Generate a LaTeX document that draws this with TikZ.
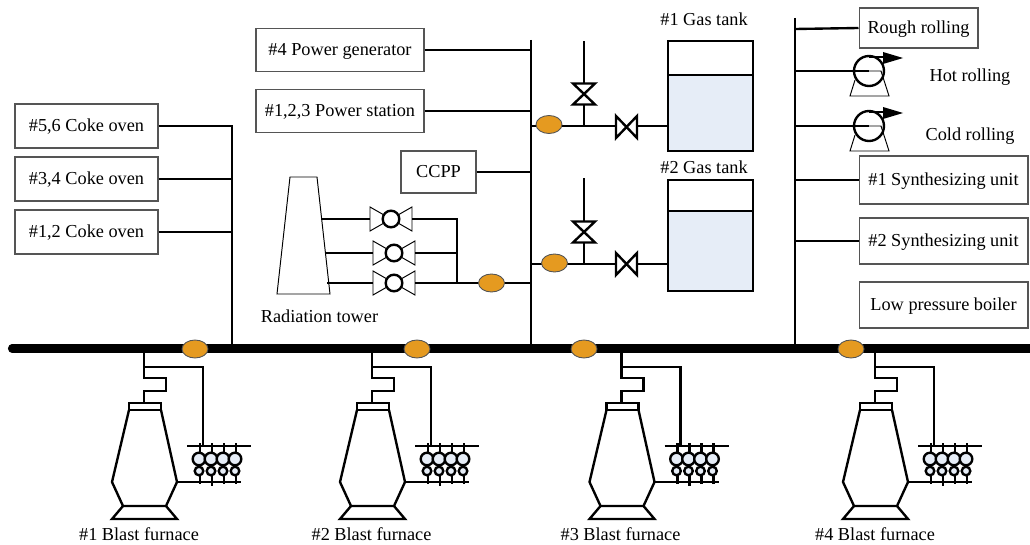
\documentclass[tikz,border=0pt]{standalone}
\usepackage{fontspec}
\setmainfont{Liberation Serif}
\usetikzlibrary{positioning,shapes.geometric,calc}
\definecolor{cgas}{HTML}{E6EDF7}
\definecolor{corange}{HTML}{E59A20}
\definecolor{cedge}{HTML}{555555}
\tikzset{
  pipe/.style  ={line width=1.35pt,black},
  thin/.style  ={line width=0.55pt,black},
  bus/.style   ={line width=4.6pt,black,line cap=round},
  unit/.style  ={draw=cedge,line width=0.6pt,fill=white,font=\fontsize{10.4}{12}\selectfont,
                 inner sep=0pt,text height=8.7pt,text depth=2pt},
  tag/.style   ={font=\fontsize{10.4}{12}\selectfont,inner sep=0pt},
  meter/.style ={ellipse,draw=cedge,line width=0.5pt,fill=corange,
                 minimum width=0.52cm,minimum height=0.36cm,inner sep=0pt},
}
\newcommand{\blastfurnace}[2]{%
\begin{scope}[shift={(#1,0)}]
 \coordinate (#2) at (144,348);
 \draw[pipe] (#2) -- (144,378) -- (166,378) -- (166,391) -- (144,391) -- (144,403);
 \draw[pipe] (144,367) -- (203,367) -- (203,446);
 \draw[pipe] (129,403) rectangle (161,410);
 \draw[pipe] (129,410) -- (112,482) -- (123,506) -- (166,506) -- (177,482) -- (161,410);
 \draw[pipe] (123,506) -- (112,519) -- (177,519) -- (166,506);
 \draw[pipe] (187,446) -- (251,446);
 \draw[pipe] (177,482) -- (241,482);
 \foreach \x/\b in {200/484,212/486,224/484,236/484}
   {\draw[pipe] (\x,443) -- (\x,\b);}
 \foreach \x in {199,211,223,235}
   {\draw[pipe,fill=cgas] (\x,459) circle (6.3);
    \draw[pipe,fill=cgas] (\x,471) circle (4.3);}
\end{scope}}
\newcommand{\towervalve}[2]{%
\begin{scope}[shift={#1}]
 \draw[thin,fill=white] (-21,-12) -- (21,12) -- (21,-12) -- (-21,12) -- cycle;
 \draw[pipe,fill=white] (0,0) circle (8.3);
 \coordinate (#2w) at (-21,0);
 \coordinate (#2e) at (21,0);
\end{scope}}
\newcommand{\gasvalve}[2]{%
\begin{scope}[shift={#1},rotate=#2]
 \draw[pipe,fill=white] (-10.5,-11) -- (10.5,11) -- (10.5,-11) -- (-10.5,11) -- cycle;
\end{scope}}
\newcommand{\rollpump}[2]{%
\begin{scope}[shift={#1}]
 \draw[thin] (-14,9) -- (-19,25) -- (20,25) -- (12,0) -- (0,0);
 \draw[pipe] (0,-14) -- (14,-14);
 \fill (14,-19) -- (34,-13) -- (14,-7) -- cycle;
 \draw[pipe] (0,0) circle (15);
 \coordinate (#2) at (0,0);
\end{scope}}
\begin{document}
\begin{tikzpicture}[x=0.02cm,y=-0.02cm]
 \useasboundingbox (0,0) rectangle (1030,544);
 % main line
 \coordinate (busw) at (12,348.5);
 \coordinate (buse) at (1030,348.5);
 \draw[bus] (busw) -- (buse);
 \blastfurnace{0}{bf1}
 \blastfurnace{228}{bf2}
 \blastfurnace{477.5}{bf3}
 \blastfurnace{731}{bf4}
 \node[tag] (bf1label) at (139,534) {\#1 Blast furnace};
 \node[tag] (bf2label) at (371.5,534) {\#2 Blast furnace};
 \node[tag] (bf3label) at (620.5,534) {\#3 Blast furnace};
 \node[tag] (bf4label) at (875,534) {\#4 Blast furnace};
 % coke ovens
 \node[unit,minimum width=2.86cm,minimum height=0.88cm] (oven3) at (86.5,126) {\#5,6 Coke oven};
 \node[unit,minimum width=2.86cm,minimum height=0.88cm] (oven2) at (86.5,179) {\#3,4 Coke oven};
 \node[unit,minimum width=2.86cm,minimum height=0.88cm] (oven1) at (86.5,232) {\#1,2 Coke oven};
 \coordinate (ovenbus) at (232,348);
 \draw[pipe] (oven3.east) -- (232,126) -- (ovenbus);
 \draw[pipe] (oven2.east) -- (232,179);
 \draw[pipe] (oven1.east) -- (232,232);
 % power
 \node[unit,minimum width=3.36cm,minimum height=0.86cm] (gen) at (340,50) {\#4 Power generator};
 \node[unit,minimum width=3.36cm,minimum height=0.86cm] (station) at (340,111) {\#1,2,3 Power station};
 \node[unit,minimum width=1.5cm,minimum height=0.84cm] (ccpp) at (438.5,172) {CCPP};
 \coordinate (midtop) at (531,40);
 \coordinate (midbus) at (531,348);
 \draw[pipe] (midtop) -- (midbus);
 \draw[pipe] (gen.east) -- (531,50);
 \draw[pipe] (station.east) -- (531,111);
 \draw[pipe] (ccpp.east) -- (531,172);
 % radiation tower
 \draw[thin] (290,177) -- (317,177) -- (330,294) -- (277,294) -- cycle;
 \node[tag] (towerlabel) at (319.5,316) {Radiation tower};
 \towervalve{(391,219)}{va}
 \towervalve{(394,253)}{vb}
 \towervalve{(394,283)}{vc}
 \coordinate (towera) at (321,219);
 \coordinate (towerb) at (325,253);
 \coordinate (towerc) at (327,283);
 \coordinate (collect) at (457,283);
 \draw[pipe] (towera) -- (vaw);
 \draw[pipe] (towerb) -- (vbw);
 \draw[pipe] (towerc) -- (vcw);
 \draw[pipe] (vae) -- (457,219) -- (collect);
 \draw[pipe] (vbe) -- (457,253);
 \draw[pipe] (vce) -- (collect) -- (531,283);
 \node[meter] (mtower) at (491.5,283) {};
 % gas tanks
 \draw[pipe] (668,41) rectangle (753,75);
 \draw[pipe,fill=cgas] (668,75) rectangle (753,151);
 \draw[pipe] (668,180) rectangle (753,211);
 \draw[pipe,fill=cgas] (668,211) rectangle (753,291);
 \node[tag] (tank1label) at (704,19) {\#1 Gas tank};
 \node[tag] (tank2label) at (704,167) {\#2 Gas tank};
 \coordinate (tank1) at (668,126);
 \coordinate (tank2) at (668,264);
 \draw[pipe] (531,126) -- (tank1);
 \draw[pipe] (531,264) -- (tank2);
 \draw[pipe] (584,126) -- (584,41);
 \draw[pipe] (584,264) -- (584,178);
 \gasvalve{(626.5,127)}{0}
 \gasvalve{(626.5,264)}{0}
 \gasvalve{(584,94)}{90}
 \gasvalve{(584,232)}{90}
 \node[meter] (mtank1) at (549,124.5) {};
 \node[meter] (mtank2) at (554.5,263) {};
 % rolling and units
 \coordinate (righttop) at (795,18);
 \coordinate (rightbus) at (795,346);
 \draw[pipe] (righttop) -- (rightbus);
 \node[unit,minimum width=2.38cm,minimum height=0.8cm] (rough) at (918.5,28) {Rough rolling};
 \node[unit,minimum width=3.38cm,minimum height=0.96cm] (syn1) at (943.5,180) {\#1 Synthesizing unit};
 \node[unit,minimum width=3.38cm,minimum height=0.92cm] (syn2) at (943.5,241) {\#2 Synthesizing unit};
 \node[unit,minimum width=3.38cm,minimum height=0.92cm] (boiler) at (943.5,305) {Low pressure boiler};
 \draw[pipe] (795,29) -- (rough.west);
 \draw[pipe] (795,180) -- (syn1.west);
 \draw[pipe] (795,241) -- (syn2.west);
 \rollpump{(869,71)}{hot}
 \rollpump{(869,126)}{cold}
 \draw[pipe] (795,71) -- (hot);
 \draw[pipe] (795,126) -- (cold);
 \node[tag] (hotlabel) at (970,77) {Hot rolling};
 \node[tag] (coldlabel) at (970,136) {Cold rolling};
 % meters on main line
 \node[meter] (m1) at (195,349) {};
 \node[meter] (m2) at (417,349) {};
 \node[meter] (m3) at (584,349) {};
 \node[meter] (m4) at (851,349) {};
\end{tikzpicture}
\end{document}
